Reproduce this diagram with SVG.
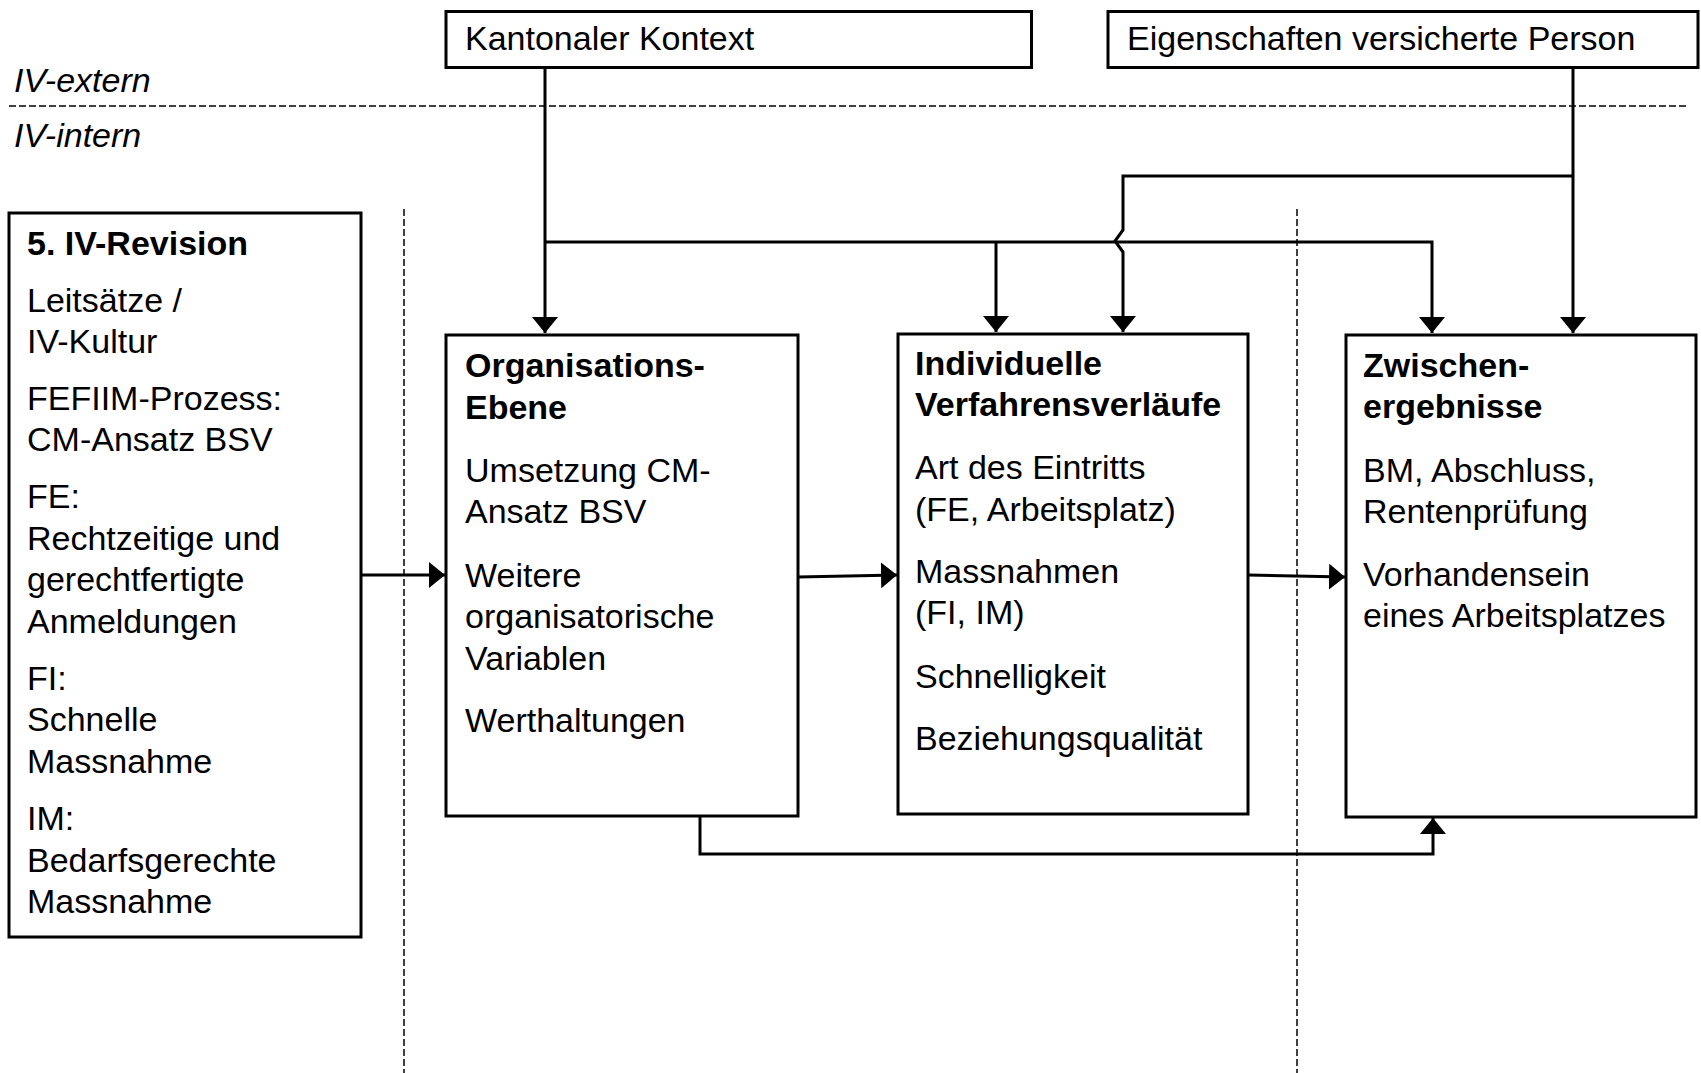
<svg xmlns="http://www.w3.org/2000/svg" width="1701" height="1073" viewBox="0 0 1701 1073">
<style>
text{font-family:"Liberation Sans",Arial,sans-serif;font-size:34px;fill:#000}
.b{font-weight:bold}
.i{font-style:italic}
.box{fill:#fff;stroke:#000;stroke-width:3}
.con{fill:none;stroke:#000;stroke-width:3}
.dash{fill:none;stroke:#000;stroke-width:1.5;stroke-dasharray:7 3}
</style>
<defs>
<marker id="arr" viewBox="0 0 16 26" refX="16" refY="13" markerWidth="16" markerHeight="26" markerUnits="userSpaceOnUse" orient="auto">
<path d="M0,0 L16,13 L0,26 z" fill="#000"/>
</marker>
</defs>
<rect width="1701" height="1073" fill="#fff"/>
<g id="guides">
<path class="dash" d="M9,106 H1687"/>
<path class="dash" d="M404,209 V1073"/>
<path class="dash" d="M1297,209 V1073"/>
<text class="i" x="14" y="92">IV-extern</text>
<text class="i" x="14" y="147">IV-intern</text>
</g>
<g id="connectors">
<path class="con" d="M545,67.5 V333" marker-end="url(#arr)"/>
<path class="con" d="M545,242 H1432 V333" marker-end="url(#arr)"/>
<path class="con" d="M996,242 V332" marker-end="url(#arr)"/>
<path class="con" d="M1573,67.5 V333" marker-end="url(#arr)"/>
<path class="con" d="M1573,176 H1123 V230 L1115,241 L1123,252 V332" marker-end="url(#arr)"/>
<path class="con" d="M361,575 H445" marker-end="url(#arr)"/>
<path class="con" d="M798,577 L897,575" marker-end="url(#arr)"/>
<path class="con" d="M1248,575 L1345,577" marker-end="url(#arr)"/>
<path class="con" d="M700,816 V854 H1433 V818" marker-end="url(#arr)"/>
</g>
<g id="kantonal">
<rect class="box" x="446" y="11.5" width="585.5" height="56"/>
<text x="465" y="50">Kantonaler Kontext</text>
</g>
<g id="eigenschaften">
<rect class="box" x="1108" y="11.5" width="590" height="56"/>
<text x="1127" y="50">Eigenschaften versicherte Person</text>
</g>
<g id="revision">
<rect class="box" x="9" y="213" width="352" height="724"/>
<text class="b" x="27" y="255">5. IV-Revision</text>
<text x="27" y="312">Leitsätze /</text>
<text x="27" y="353">IV-Kultur</text>
<text x="27" y="410">FEFIIM-Prozess:</text>
<text x="27" y="451">CM-Ansatz BSV</text>
<text x="27" y="508">FE:</text>
<text x="27" y="550">Rechtzeitige und</text>
<text x="27" y="591">gerechtfertigte</text>
<text x="27" y="633">Anmeldungen</text>
<text x="27" y="690">FI:</text>
<text x="27" y="731">Schnelle</text>
<text x="27" y="773">Massnahme</text>
<text x="27" y="830">IM:</text>
<text x="27" y="872">Bedarfsgerechte</text>
<text x="27" y="913">Massnahme</text>
</g>
<g id="organisation">
<rect class="box" x="446" y="335" width="352" height="481"/>
<text class="b" x="465" y="377">Organisations-</text>
<text class="b" x="465" y="419">Ebene</text>
<text x="465" y="482">Umsetzung CM-</text>
<text x="465" y="523">Ansatz BSV</text>
<text x="465" y="587">Weitere</text>
<text x="465" y="628">organisatorische</text>
<text x="465" y="670">Variablen</text>
<text x="465" y="732">Werthaltungen</text>
</g>
<g id="verfahren">
<rect class="box" x="898" y="334" width="350" height="480"/>
<text class="b" x="915" y="375">Individuelle</text>
<text class="b" x="915" y="416">Verfahrensverläufe</text>
<text x="915" y="479">Art des Eintritts</text>
<text x="915" y="521">(FE, Arbeitsplatz)</text>
<text x="915" y="583">Massnahmen</text>
<text x="915" y="624">(FI, IM)</text>
<text x="915" y="688">Schnelligkeit</text>
<text x="915" y="750">Beziehungsqualität</text>
</g>
<g id="zwischen">
<rect class="box" x="1346" y="335" width="350" height="482"/>
<text class="b" x="1363" y="377">Zwischen-</text>
<text class="b" x="1363" y="418">ergebnisse</text>
<text x="1363" y="482">BM, Abschluss,</text>
<text x="1363" y="523">Rentenprüfung</text>
<text x="1363" y="586">Vorhandensein</text>
<text x="1363" y="627">eines Arbeitsplatzes</text>
</g>
</svg>
